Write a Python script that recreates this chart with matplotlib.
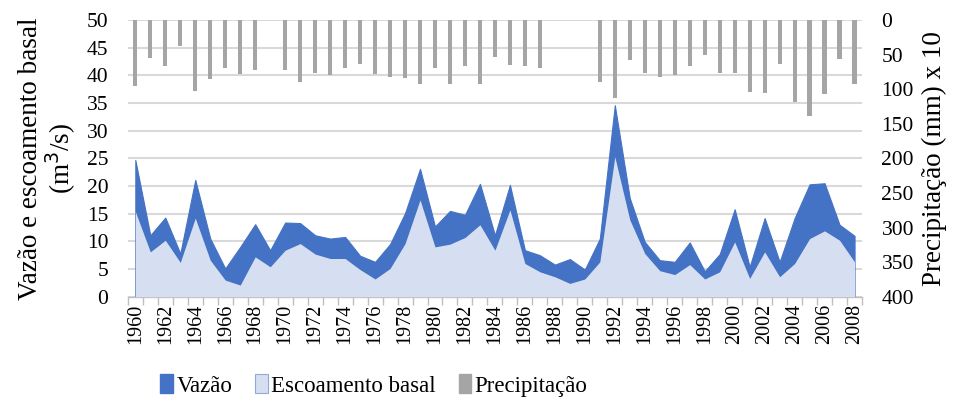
import matplotlib
matplotlib.use("Agg")
import matplotlib.pyplot as plt
import numpy as np
from matplotlib.patches import Patch

plt.rcParams['font.family'] = ['Liberation Serif', 'DejaVu Serif']

years = np.arange(1960, 2009)

# vazao (m3/s)
vazao = [24.7, 11.1, 14.3, 7.8, 21.1, 10.5, 5.1, 9.0, 13.1, 8.4,
         13.4, 13.3, 11.1, 10.5, 10.8, 7.4, 6.3, 9.5, 15.1, 23.1,
         12.7, 15.5, 14.8, 20.4, 11.1, 20.2, 8.4, 7.5, 5.8, 6.8,
         4.9, 10.5, 34.6, 17.8, 9.9, 6.6, 6.3, 9.8, 4.6, 7.7,
         15.8, 5.4, 14.2, 6.3, 14.2, 20.3, 20.5, 13.0, 11.0]

# escoamento basal (m3/s)
basal = [15.4, 8.1, 10.2, 6.2, 14.2, 6.6, 3.0, 2.1, 7.2, 5.4,
         8.4, 9.6, 7.7, 6.9, 6.9, 4.9, 3.2, 5.1, 9.6, 17.5,
         9.0, 9.5, 10.7, 13.0, 8.4, 15.7, 6.0, 4.5, 3.6, 2.4,
         3.2, 6.3, 25.3, 13.9, 7.8, 4.7, 4.0, 5.8, 3.2, 4.5,
         9.9, 3.3, 8.1, 3.6, 6.0, 10.5, 11.9, 10.2, 6.3]

# precipitacao (mm x 10), 0 = sem dado
precip = [95, 55, 67, 38, 103, 86, 69, 78, 73, 0,
          73, 90, 76, 80, 70, 63, 78, 83, 84, 93,
          70, 93, 67, 93, 54, 65, 67, 69, 0, 0,
          0, 89, 113, 58, 77, 83, 79, 66, 50, 77,
          77, 104, 105, 63, 119, 139, 107, 56, 93]

dark = '#4472C4'
light = '#D6DFF1'
grey = '#A5A5A5'

fig = plt.figure(figsize=(9.54, 4.08), dpi=100)
ax = fig.add_axes([0.134, 0.2728, 0.7696, 0.6782])

ax.fill_between(years, 0, vazao, color=dark, lw=0.8, edgecolor=dark, zorder=2)
ax.fill_between(years, 0, basal, color=light, lw=0, zorder=3)

ax.set_xlim(1959.5, 2008.5)
ax.set_ylim(0, 50)
ax.set_yticks(np.arange(0, 51, 5))
ax.yaxis.grid(True, color='#D9D9D9', lw=1.5, zorder=0)
ax.set_axisbelow(True)

ax.set_xticks(years[::2])
ax.set_xticklabels([str(y) for y in years[::2]], rotation=90)
ax.set_xticks(np.arange(1959.5, 2009, 1), minor=True)
ax.tick_params(axis='x', which='major', length=0, labelsize=14.5, pad=5)
ax.tick_params(axis='x', which='minor', length=6, color='#BFBFBF', width=1)
ax.tick_params(axis='y', length=0, labelsize=15.5, pad=14)

for s in ['top', 'right', 'left']:
    ax.spines[s].set_visible(False)
ax.spines['bottom'].set_color('#BFBFBF')
ax.spines['bottom'].set_linewidth(1)

ax.set_ylabel('Vazão e escoamento basal\n(m$^3$/s)', fontsize=19.5,
              labelpad=6, linespacing=1.05)

ax2 = ax.twinx()
ax2.bar(years, precip, width=0.28, color=grey, zorder=3)
ax2.set_ylim(400, 0)
ax2.set_yticks(np.arange(0, 401, 50))
ax2.tick_params(axis='y', length=0, labelsize=15.5, pad=14)
for s in ['top', 'right', 'left', 'bottom']:
    ax2.spines[s].set_visible(False)
ax2.set_ylabel('Precipitação (mm) x 10', fontsize=19.5, labelpad=6)

handles = [Patch(color=dark), Patch(facecolor=light, edgecolor='#8EA9DB', lw=0.8),
           Patch(color=grey)]
fig.legend(handles, ['Vazão', 'Escoamento basal', 'Precipitação'],
           loc='center', bbox_to_anchor=(0.392, 0.055), ncol=3, frameon=False,
           fontsize=16.5, handlelength=0.55, handleheight=0.9, handletextpad=0.15,
           columnspacing=1.0)

fig.savefig('out.png', dpi=100)
